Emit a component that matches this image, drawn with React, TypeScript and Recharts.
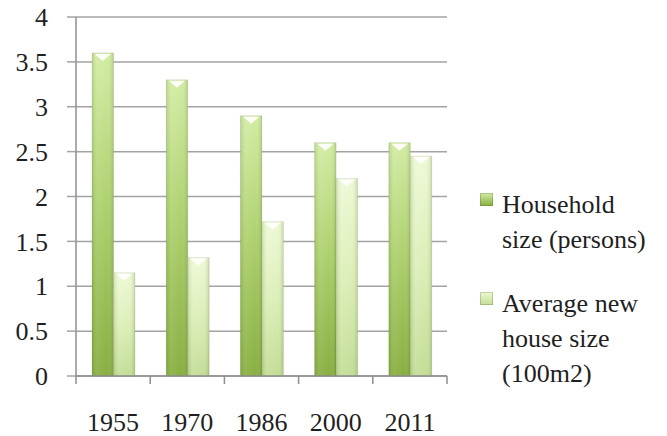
import { BarChart, Bar, XAxis, YAxis, CartesianGrid } from 'recharts'

const years = ['1955', '1970', '1986', '2000', '2011']
const householdSize = [3.6, 3.3, 2.9, 2.6, 2.6]
const newHouseSize = [1.15, 1.32, 1.72, 2.2, 2.45]
const yTicks = [0, 0.5, 1, 1.5, 2, 2.5, 3, 3.5, 4]
const seriesNames = ['Household size (persons)', 'Average new house size (100m2)']
const legendLines = [
  ['Household', 'size (persons)'],
  ['Average new', 'house size', '(100m2)'],
]

const data = years.map((year, i) => ({
  year,
  household: householdSize[i],
  house: newHouseSize[i],
}))

const FONT = "'Liberation Serif', Tinos, 'Times New Roman', Times, 'DejaVu Serif', 'Noto Serif', serif"
const TEXT = '#1f1f1f'
const GRID = '#a3a3a3'
const AXIS = '#8e8e8e'

function GlossyBar(props: any) {
  const { x, y, width, height, grad } = props
  if (!height || height <= 0) return null
  const inset = 2.5
  return (
    <g>
      <rect x={x} y={y} width={width} height={height} fill={`url(#${grad})`} />
      <rect x={x} y={y} width={width} height={height} fill="url(#shade)" />
      <polygon
        points={`${x + inset},${y + 1} ${x + width - inset},${y + 1} ${x + width / 2},${y + 8}`}
        fill="#ffffff"
        opacity={0.9}
      />
      <rect x={x} y={y} width={width} height={height} fill="none" stroke="#000" strokeOpacity={0.08} />
    </g>
  )
}

// category label plus tick marks on the band edges (Excel style)
function YearTick(props: any) {
  const { x, y, payload, index } = props
  const half = payload?.offset ?? 0
  const last = index === years.length - 1
  return (
    <g>
      <line x1={x - half} x2={x - half} y1={y} y2={y + 8} stroke={AXIS} strokeWidth={1.5} />
      {last && <line x1={x + half} x2={x + half} y1={y} y2={y + 8} stroke={AXIS} strokeWidth={1.5} />}
      <text x={x} y={y + 55} textAnchor="middle" fontSize={26} fill={TEXT} fontFamily={FONT}>
        {payload.value}
      </text>
    </g>
  )
}

export default function App() {
  return (
    <div style={{ position: 'fixed', left: 0, top: 0, width: 667, height: 436, background: '#fff', fontFamily: FONT }}>
      <BarChart
        width={667}
        height={436}
        data={data}
        margin={{ top: 17, right: 220, left: 0, bottom: 0 }}
        barGap={0}
        barSize={21.5}
      >
        <defs>
          <linearGradient id="darkGrad" x1="0" y1="0" x2="0" y2="1">
            <stop offset="0%" stopColor="#d3eca4" />
            <stop offset="45%" stopColor="#afd270" />
            <stop offset="100%" stopColor="#88ae40" />
          </linearGradient>
          <linearGradient id="lightGrad" x1="0" y1="0" x2="0" y2="1">
            <stop offset="0%" stopColor="#eef9d6" />
            <stop offset="50%" stopColor="#dcefb8" />
            <stop offset="100%" stopColor="#c3dd96" />
          </linearGradient>
          <linearGradient id="shade" x1="0" y1="0" x2="1" y2="0">
            <stop offset="0%" stopColor="#4a6a1a" stopOpacity={0.18} />
            <stop offset="25%" stopColor="#ffffff" stopOpacity={0.08} />
            <stop offset="70%" stopColor="#ffffff" stopOpacity={0} />
            <stop offset="100%" stopColor="#4a6a1a" stopOpacity={0.22} />
          </linearGradient>
        </defs>
        <CartesianGrid vertical={false} stroke={GRID} strokeWidth={1.5} />
        <XAxis
          dataKey="year"
          axisLine={{ stroke: AXIS, strokeWidth: 1.5 }}
          tickLine={false}
          tickSize={0}
          tickMargin={0}
          height={60}
          interval={0}
          tick={<YearTick />}
        />
        <YAxis
          domain={[0, 4]}
          ticks={yTicks}
          width={76}
          tickSize={9}
          tickMargin={19}
          axisLine={{ stroke: AXIS, strokeWidth: 1.5 }}
          tickLine={{ stroke: GRID, strokeWidth: 1.5 }}
          tick={{ fontSize: 26, fill: TEXT, fontFamily: FONT }}
        />
        <Bar
          dataKey="household"
          name={seriesNames[0]}
          fill="#a9cc6a"
          isAnimationActive={false}
          shape={(p: any) => <GlossyBar {...p} grad="darkGrad" />}
        />
        <Bar
          dataKey="house"
          name={seriesNames[1]}
          fill="#dff0bd"
          isAnimationActive={false}
          shape={(p: any) => <GlossyBar {...p} grad="lightGrad" />}
        />
      </BarChart>
      <div style={{ position: 'absolute', left: 480, top: 187, color: TEXT, fontSize: 26, lineHeight: '35px' }}>
        {legendLines.map((lines, i) => (
          <div key={i} style={{ position: 'relative', paddingLeft: 22, marginBottom: 29 }}>
            <span
              style={{
                position: 'absolute',
                left: 0,
                top: 6,
                width: 13,
                height: 13,
                background: i === 0
                  ? 'linear-gradient(#d3eca4, #88ae40)'
                  : 'linear-gradient(#eef9d6, #c3dd96)',
                boxShadow: 'inset 0 0 0 1px rgba(60,90,20,0.25)',
              }}
            />
            {lines.map((l, j) => (
              <div key={j} style={{ whiteSpace: 'nowrap' }}>{l}</div>
            ))}
          </div>
        ))}
      </div>
    </div>
  )
}
